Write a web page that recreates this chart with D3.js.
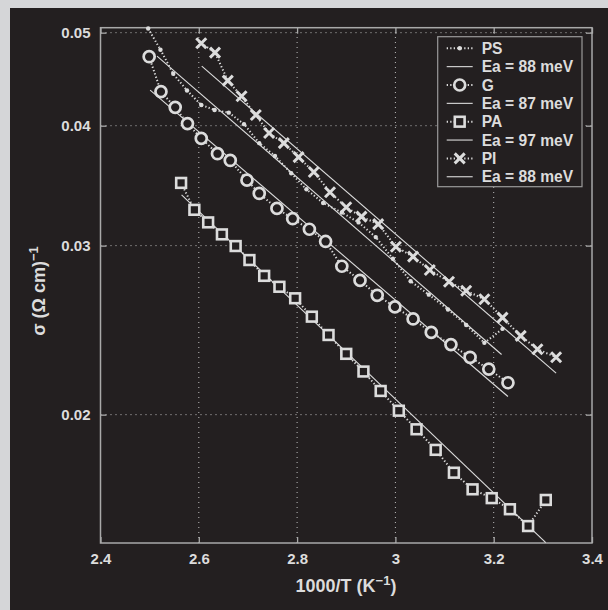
<!DOCTYPE html>
<html>
<head>
<meta charset="utf-8">
<script src="https://cdn.jsdelivr.net/npm/d3@7"></script>
<style>
  html, body { margin: 0; padding: 0; background: #d5d6d8; }
  svg { display: block; }
</style>
</head>
<body>
<svg id="chart" width="608" height="610"></svg>
<script>
// Axis ticks
const xTicks = [2.4, 2.6, 2.8, 3.0, 3.2, 3.4];
const yTicks = [0.02, 0.03, 0.04, 0.05];

// Conductivity vs 1000/T for each sample
const psX = [2.497, 2.522, 2.548, 2.576, 2.605, 2.632, 2.661, 2.692, 2.723, 2.755, 2.788, 2.819,
             2.853, 2.891, 2.925, 2.960, 2.995, 3.031, 3.068, 3.107, 3.144, 3.181, 3.218];
const psY = [0.0505, 0.0480, 0.0453, 0.04352, 0.04204, 0.04154, 0.04127, 0.04015, 0.03836, 0.03720, 0.03569, 0.03434,
             0.03323, 0.03248, 0.03172, 0.03062, 0.02907, 0.02754, 0.02667, 0.02574, 0.02480, 0.02376, 0.02457];

const gX = [2.499, 2.523, 2.552, 2.577, 2.605, 2.638, 2.664, 2.698, 2.723, 2.759, 2.791, 2.825,
            2.858, 2.891, 2.928, 2.963, 2.999, 3.036, 3.073, 3.113, 3.152, 3.190, 3.229];
const gY = [0.0472, 0.0434, 0.0418, 0.0402, 0.0388, 0.0374, 0.0368, 0.0351, 0.0340, 0.0328, 0.0320, 0.0312,
            0.0303, 0.02855, 0.0276, 0.02663, 0.0259, 0.02516, 0.02436, 0.02366, 0.02295, 0.02231, 0.02159];

const paX = [2.564, 2.591, 2.619, 2.647, 2.675, 2.703, 2.733, 2.764, 2.796, 2.830, 2.864, 2.900,
             2.935, 2.970, 3.007, 3.043, 3.082, 3.119, 3.157, 3.196, 3.233, 3.270, 3.306];
const paY = [0.03487, 0.03269, 0.03172, 0.03082, 0.02997, 0.02898, 0.02790, 0.02718, 0.02644, 0.02530, 0.02421, 0.02314,
             0.02218, 0.02117, 0.02019, 0.01931, 0.01838, 0.01740, 0.01672, 0.01637, 0.01594, 0.01531, 0.01630];

const piX = [2.605, 2.633, 2.659, 2.687, 2.716, 2.743, 2.773, 2.803, 2.834, 2.867, 2.900, 2.931,
             2.965, 3.001, 3.036, 3.070, 3.109, 3.144, 3.181, 3.218, 3.255, 3.289, 3.327];
const piY = [0.04875, 0.04766, 0.04457, 0.04293, 0.04104, 0.03930, 0.03836, 0.03709, 0.03579, 0.03410, 0.03289, 0.03216,
             0.03159, 0.02992, 0.02922, 0.02830, 0.02751, 0.02692, 0.02638, 0.02524, 0.02416, 0.02340, 0.02295];

// Arrhenius fits: activation energy (eV), start point and end of range
const fitEa = [0.088, 0.087, 0.097, 0.088];
const fitX0 = [2.515, 2.501, 2.565, 2.606];
const fitY0 = [0.04727, 0.04357, 0.03388, 0.04614];
const fitX1 = [3.216, 3.229, 3.306, 3.327];

const seriesNames = ["PS", "G", "PA", "PI"];
const fitLabels = ["Ea = 88 meV", "Ea = 87 meV", "Ea = 97 meV", "Ea = 88 meV"];
const seriesX = [psX, gX, paX, piX];
const seriesY = [psY, gY, paY, piY];
const markerKinds = ["dot", "circle", "square", "cross"];

const kB = 8.617e-5; // eV/K

const bg = "#231f20";
const fg = "#dcdcdc";
const frameCol = "#a9a9a9";
const font = "'Liberation Sans', Arial, Helvetica, sans-serif";

const svg = d3.select("#chart");

// dark panel, grey margin on left/top
svg.append("rect").attr("x", 10).attr("y", 8).attr("width", 598).attr("height", 602).attr("fill", bg);

const L = 100.5, R = 592, T = 27.7, B = 543;
const x = d3.scaleLinear().domain([2.4, 3.4]).range([L, R]);
const y = d3.scaleLog().domain([0.0147, 0.0506]).range([B, T]);

svg.append("clipPath").attr("id", "plotclip")
  .append("rect").attr("x", L).attr("y", T).attr("width", R - L).attr("height", B - T);

// grid
const grid = svg.append("g").attr("stroke", "#bdbdbd").attr("stroke-width", 1).attr("stroke-dasharray", "1,4");
xTicks.slice(1, -1).forEach(t => {
  grid.append("line").attr("x1", x(t)).attr("x2", x(t)).attr("y1", B).attr("y2", T);
});
yTicks.forEach(t => {
  grid.append("line").attr("x1", L).attr("x2", R).attr("y1", y(t)).attr("y2", y(t));
});

// axes (inward ticks on all four sides)
const tickLen = 6;
const fmtX = d => d3.format("~g")(d);
const axB = d3.axisBottom(x).tickValues(xTicks).tickSize(-tickLen).tickPadding(10).tickFormat(fmtX);
const axT = d3.axisTop(x).tickValues(xTicks).tickSize(-tickLen).tickFormat("");
const axL = d3.axisLeft(y).tickValues(yTicks).tickSize(-tickLen).tickPadding(10).tickFormat(d3.format(".2f"));
const axR = d3.axisRight(y).tickValues(yTicks).tickSize(-tickLen).tickFormat("");

function styleAxis(g) {
  g.select(".domain").remove();
  g.selectAll(".tick line").attr("stroke", frameCol).attr("stroke-width", 1.3);
  g.selectAll("text").attr("fill", fg).attr("font-family", font).attr("font-weight", "bold").attr("font-size", 15);
}
svg.append("g").attr("transform", `translate(0,${B})`).call(axB).call(styleAxis);
svg.append("g").attr("transform", `translate(0,${T})`).call(axT).call(styleAxis);
svg.append("g").attr("transform", `translate(${L},0)`).call(axL).call(styleAxis);
svg.append("g").attr("transform", `translate(${R},0)`).call(axR).call(styleAxis);

// frame
svg.append("rect").attr("x", L).attr("y", T).attr("width", R - L).attr("height", B - T)
  .attr("fill", "none").attr("stroke", frameCol).attr("stroke-width", 1.5);

// fit lines
const line = d3.line().x(d => x(d[0])).y(d => y(d[1]));
const fitG = svg.append("g").attr("clip-path", "url(#plotclip)");
fitEa.forEach((ea, i) => {
  const y1 = fitY0[i] * Math.exp(-(ea / kB) * (fitX1[i] - fitX0[i]) / 1000);
  fitG.append("path").datum([[fitX0[i], fitY0[i]], [fitX1[i], y1]])
    .attr("d", line).attr("fill", "none").attr("stroke", fg).attr("stroke-width", 1.1);
});

// marker drawing
function drawMarker(g, kind, cx, cy) {
  if (kind === "dot") {
    g.append("circle").attr("cx", cx).attr("cy", cy).attr("r", 2.2).attr("fill", fg);
  } else if (kind === "circle") {
    g.append("circle").attr("cx", cx).attr("cy", cy).attr("r", 5.5)
      .attr("fill", bg).attr("stroke", fg).attr("stroke-width", 2.7);
  } else if (kind === "square") {
    const s = 9.8;
    g.append("rect").attr("x", cx - s / 2).attr("y", cy - s / 2).attr("width", s).attr("height", s)
      .attr("fill", bg).attr("stroke", fg).attr("stroke-width", 2.6);
  } else if (kind === "cross") {
    const h = 5;
    g.append("path").attr("d", `M${cx - h},${cy - h}L${cx + h},${cy + h}M${cx - h},${cy + h}L${cx + h},${cy - h}`)
      .attr("stroke", fg).attr("stroke-width", 3).attr("fill", "none");
  }
}

// data series: dotted connecting line + markers
seriesX.forEach((xs, i) => {
  const pts = xs.map((v, j) => [v, seriesY[i][j]]);
  const g = svg.append("g");
  g.append("path").datum(pts).attr("d", line).attr("fill", "none")
    .attr("stroke", fg).attr("stroke-width", 2).attr("stroke-dasharray", "1.3,2.2");
  pts.forEach(p => drawMarker(g, markerKinds[i], x(p[0]), y(p[1])));
});

// legend
const lg = svg.append("g");
lg.append("rect").attr("x", 437.7).attr("y", 36.7).attr("width", 144.3).attr("height", 150)
  .attr("fill", bg).attr("stroke", "#9a9a9a").attr("stroke-width", 1.2);
const rowY0 = 48.3, rowDy = 18.35, sx0 = 446.7, sx1 = 472.7, tx = 481.7;
seriesNames.forEach((name, i) => {
  const ry = rowY0 + rowDy * (2 * i);
  lg.append("line").attr("x1", sx0).attr("x2", sx1).attr("y1", ry).attr("y2", ry)
    .attr("stroke", fg).attr("stroke-width", 2).attr("stroke-dasharray", "1.3,2.2");
  drawMarker(lg, markerKinds[i], (sx0 + sx1) / 2, ry);
  lg.append("text").attr("x", tx).attr("y", ry + 5.5).text(name);
  const fy = rowY0 + rowDy * (2 * i + 1);
  lg.append("line").attr("x1", sx0).attr("x2", sx1).attr("y1", fy).attr("y2", fy)
    .attr("stroke", fg).attr("stroke-width", 1.1);
  lg.append("text").attr("x", tx).attr("y", fy + 5.5).text(fitLabels[i]);
});
lg.selectAll("text").attr("fill", fg).attr("font-family", font).attr("font-weight", "bold").attr("font-size", 15.6);

// axis titles
const xt = svg.append("text").attr("x", 346).attr("y", 592).attr("text-anchor", "middle")
  .attr("fill", fg).attr("font-family", font).attr("font-weight", "bold").attr("font-size", 18);
xt.append("tspan").text("1000/T (K");
xt.append("tspan").attr("dy", -7).attr("font-size", 13).text("\u22121");
xt.append("tspan").attr("dy", 7).text(")");

const yt = svg.append("text").attr("transform", `translate(45,291) rotate(-90)`)
  .attr("text-anchor", "middle")
  .attr("fill", fg).attr("font-family", font).attr("font-weight", "bold").attr("font-size", 18);
yt.append("tspan").text("\u03c3 (\u03a9 cm)");
yt.append("tspan").attr("dy", -7).attr("font-size", 13).text("\u22121");
</script>
</body>
</html>
